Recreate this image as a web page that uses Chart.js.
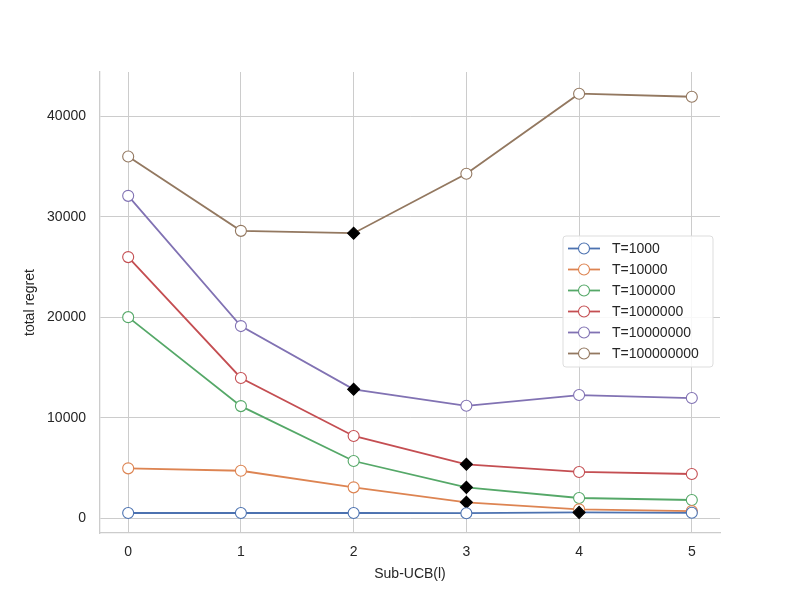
<!DOCTYPE html>
<html>
<head>
<meta charset="utf-8">
<script src="https://cdn.jsdelivr.net/npm/chart.js@4/dist/chart.umd.min.js"></script>
<style>
  html, body { margin: 0; padding: 0; background: #fff; }
  #wrap { width: 800px; height: 600px; }
</style>
</head>
<body>
<div id="wrap"><canvas id="regretChart" width="800" height="600"></canvas></div>
<script>
// values
var categories = [0, 1, 2, 3, 4, 5];
var seriesLabels = ['T=1000', 'T=10000', 'T=100000', 'T=1000000', 'T=10000000', 'T=100000000'];
var regretT1e3 = [540, 540, 540, 520, 600, 560];
var regretT1e4 = [4980, 4740, 3090, 1600, 900, 730];
var regretT1e5 = [20020, 11170, 5710, 3090, 2030, 1830];
var regretT1e6 = [25990, 13970, 8200, 5380, 4620, 4420];
var regretT1e7 = [32080, 19130, 12840, 11200, 12270, 11970];
var regretT1e8 = [35990, 28600, 28370, 34280, 42240, 41940];
// index of the best l for each T (black diamonds)
var bestIndex = [4, 3, 3, 3, 2, 2];
var yTicks = [0, 10000, 20000, 30000, 40000];

var seriesValues = [regretT1e3, regretT1e4, regretT1e5, regretT1e6, regretT1e7, regretT1e8];
var colors = ['#4C72B0', '#DD8452', '#55A868', '#C44E52', '#8172B3', '#937860'];
var textColor = '#262626';
var gridColor = '#cccccc';
var fontFamily = '"Liberation Sans", Arial, sans-serif';

var datasets = seriesValues.map(function (vals, s) {
    var best = bestIndex[s];
    return {
        label: seriesLabels[s],
        data: vals.map(function (v, i) { return { x: categories[i], y: v }; }),
        borderColor: colors[s],
        borderWidth: 1.8,
        backgroundColor: '#ffffff',
        pointStyle: vals.map(function (v, i) { return i === best ? 'rectRot' : 'circle'; }),
        pointRadius: vals.map(function (v, i) { return i === best ? 6 : 5.5; }),
        pointBackgroundColor: vals.map(function (v, i) { return i === best ? '#000000' : '#ffffff'; }),
        pointBorderColor: vals.map(function (v, i) { return i === best ? '#000000' : colors[s]; }),
        pointBorderWidth: 1.1,
        tension: 0
    };
});

// legend drawn inside the plot, like matplotlib's "best" location
var innerLegend = {
    id: 'innerLegend',
    afterDatasetsDraw: function (chart) {
        var ctx = chart.ctx;
        var area = chart.chartArea;
        var x0 = area.right - 157, y0 = 236, w = 150, h = 131;
        ctx.save();
        ctx.beginPath();
        ctx.roundRect(x0, y0, w, h, 3);
        ctx.fillStyle = 'rgba(255,255,255,0.85)';
        ctx.fill();
        ctx.strokeStyle = '#dddddd';
        ctx.lineWidth = 1;
        ctx.stroke();
        ctx.font = '14px ' + fontFamily;
        ctx.textBaseline = 'middle';
        chart.data.datasets.forEach(function (ds, i) {
            var cy = y0 + 12.5 + i * 21;
            ctx.strokeStyle = ds.borderColor;
            ctx.lineWidth = 1.8;
            ctx.beginPath();
            ctx.moveTo(x0 + 5, cy);
            ctx.lineTo(x0 + 37, cy);
            ctx.stroke();
            ctx.beginPath();
            ctx.arc(x0 + 21, cy, 5.5, 0, Math.PI * 2);
            ctx.fillStyle = '#ffffff';
            ctx.fill();
            ctx.lineWidth = 1.1;
            ctx.stroke();
            ctx.fillStyle = textColor;
            ctx.fillText(ds.label, x0 + 49, cy + 1);
        });
        ctx.restore();
    }
};

new Chart(document.getElementById('regretChart'), {
    type: 'line',
    data: { datasets: datasets },
    options: {
        responsive: false,
        animation: false,
        layout: { padding: { left: 0, top: 72, right: 80, bottom: 0 } },
        plugins: {
            legend: { display: false },
            tooltip: { enabled: false }
        },
        scales: {
            x: {
                type: 'linear',
                min: -0.25,
                max: 5.25,
                afterBuildTicks: function (axis) {
                    axis.ticks = categories.map(function (c) { return { value: c }; });
                },
                afterFit: function (axis) { axis.height = 67; },
                grid: { color: gridColor, lineWidth: 1, drawTicks: false },
                border: { color: gridColor, width: 1.3 },
                ticks: { padding: 11, color: textColor, font: { family: fontFamily, size: 14 } },
                title: {
                    display: true, text: 'Sub-UCB(l)', color: textColor,
                    font: { family: fontFamily, size: 14 }, padding: { top: 0, bottom: 17 }
                }
            },
            y: {
                min: -1450,
                max: 44400,
                afterBuildTicks: function (axis) {
                    axis.ticks = yTicks.map(function (t) { return { value: t }; });
                },
                afterFit: function (axis) { axis.width = 100; },
                grid: { color: gridColor, lineWidth: 1, drawTicks: false },
                border: { color: gridColor, width: 1.3 },
                ticks: {
                    padding: 14, color: textColor, font: { family: fontFamily, size: 14 },
                    callback: function (v) { return String(v); }
                },
                title: {
                    display: true, text: 'total regret', color: textColor,
                    font: { family: fontFamily, size: 14 }, padding: { top: 22, bottom: 0 }
                }
            }
        }
    },
    plugins: [innerLegend]
});
</script>
</body>
</html>
